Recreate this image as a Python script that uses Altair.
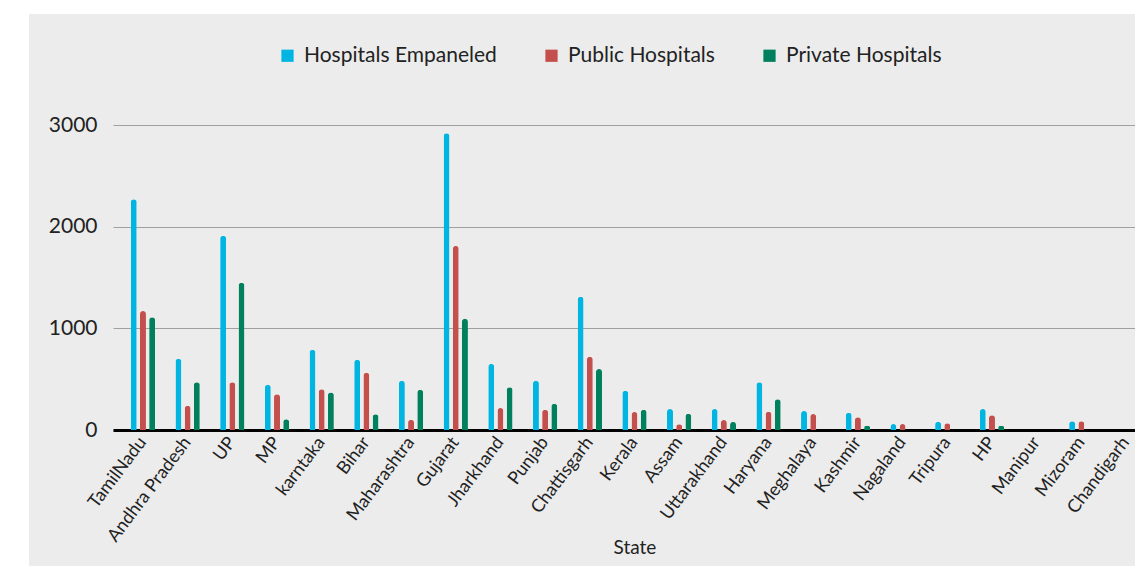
import altair as alt
import pandas as pd

states = [
    "TamilNadu", "Andhra Pradesh", "UP", "MP", "karntaka", "Bihar", "Maharashtra",
    "Gujarat", "Jharkhand", "Punjab", "Chattisgarh", "Kerala", "Assam", "Uttarakhand",
    "Haryana", "Meghalaya", "Kashmir", "Nagaland", "Tripura", "HP", "Manipur",
    "Mizoram", "Chandigarh",
]
empaneled = [2270, 700, 1910, 445, 790, 690, 485, 2920, 650, 485, 1310, 387, 206,
             206, 470, 187, 170, 59, 82, 206, 0, 85, 0]
public = [1170, 239, 469, 351, 400, 564, 101, 1810, 216, 200, 721, 177, 56,
          98, 180, 157, 125, 59, 66, 144, 0, 85, 0]
private = [1110, 469, 1449, 105, 370, 154, 396, 1094, 420, 259, 600, 200, 160,
           79, 302, 0, 42, 0, 0, 42, 0, 0, 0]

series = ["Hospitals Empaneled", "Public Hospitals", "Private Hospitals"]
colors = ["#00b5e2", "#c4504e", "#00805c"]

rows = []
for name, vals in zip(series, [empaneled, public, private]):
    for st, v in zip(states, vals):
        rows.append({"State": st, "Series": name, "Value": v})
df = pd.DataFrame(rows)

FONT = "Lato"
W, H = 1022, 305

# white margin strips on the left and top of the grey chart
one = alt.Data(values=[{}])
left_strip = alt.Chart(one).mark_rect(color="white").encode(
    x=alt.value(-113), x2=alt.value(-84), y=alt.value(-125), y2=alt.value(H + 136),
)
top_strip = alt.Chart(one).mark_rect(color="white").encode(
    x=alt.value(-113), x2=alt.value(W + 30), y=alt.value(-125), y2=alt.value(-111),
)

bars = alt.Chart(df).mark_bar(width=6, cornerRadiusTopLeft=3, cornerRadiusTopRight=3).encode(
    x=alt.X(
        "State:N", sort=states,
        scale=alt.Scale(range=[0, 1043], paddingInner=0.383, paddingOuter=0.362),
        axis=alt.Axis(
            title="State", labelAngle=-53, labelAlign="right", labelBaseline="middle",
            labelFontSize=18, labelFont=FONT, labelColor="#222", labelPadding=9,
            ticks=False, domainColor="#000", domainWidth=3,
            titleFont=FONT, titleFontSize=19, titleFontWeight="normal", titleColor="#222",
            titleY=123, titleBaseline="alphabetic",
        ),
    ),
    xOffset=alt.XOffset("Series:N", sort=series, scale=alt.Scale(paddingInner=0, paddingOuter=0)),
    y=alt.Y(
        "Value:Q",
        scale=alt.Scale(domain=[0, 3000], nice=False),
        axis=alt.Axis(
            title=None, values=[0, 1000, 2000, 3000], format="d",
            labelFontSize=21, labelFont=FONT, labelColor="#222", labelPadding=16,
            ticks=False, domain=False, gridColor="#a0a0a0", gridWidth=1.2,
        ),
    ),
    color=alt.Color(
        "Series:N", sort=series,
        scale=alt.Scale(domain=series, range=colors),
        legend=alt.Legend(
            title=None, orient="none", direction="horizontal",
            legendX=164, legendY=-80, labelLimit=400,
            symbolType="square", symbolSize=150, symbolStrokeWidth=0,
            labelFont=FONT, labelFontSize=21, labelColor="#222",
            labelOffset=6, columnPadding=44,
        ),
    ),
)

chart = alt.layer(left_strip, top_strip, bars).properties(
    width=W, height=H,
    autosize=alt.AutoSizeParams(type="none"),
    padding={"left": 113, "top": 125, "right": 0, "bottom": 136},
    background="#ececec",
).configure_view(stroke=None)

chart.save("out.html", embed_options={"renderer": "svg", "actions": False})
